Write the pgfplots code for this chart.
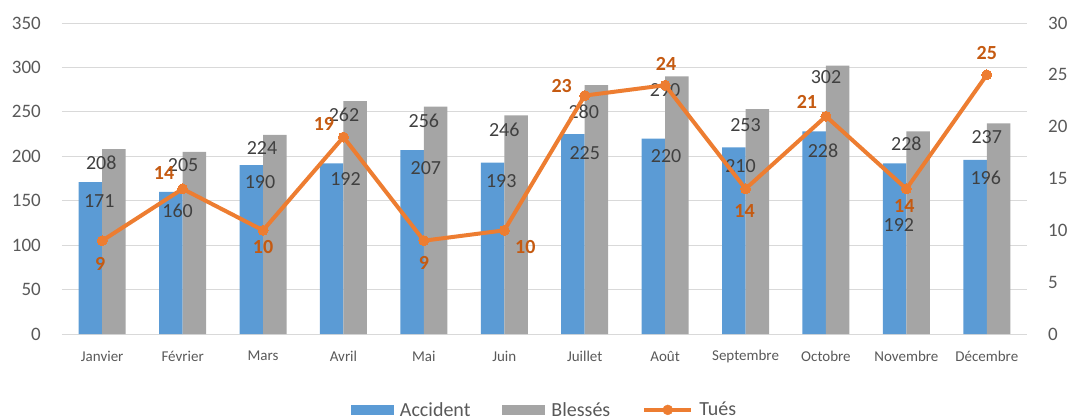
\documentclass[border=0pt]{standalone}
\usepackage{pgfplots}
\usepackage{pgfplotstable}
\pgfplotsset{compat=1.18}
\usepackage{fontspec}
\setmainfont{Carlito}
\definecolor{cBlue}{HTML}{5B9BD5}
\definecolor{cGray}{HTML}{A5A5A5}
\definecolor{cOrange}{HTML}{ED7D31}
\definecolor{cOrLab}{HTML}{C55A11}
\definecolor{cGrid}{HTML}{D9D9D9}
\definecolor{cTick}{HTML}{595959}
\definecolor{cLab}{HTML}{404040}
\pgfplotstableread{
x acc dxa dya bl dxb dyb
0 171 -3 -19 208 -1 -14
1 160 -5 -19 205 0.5 -13
2 190 -3 -17 224 -1 -13
3 192 2 -16 262 0.5 -13.5
4 207 2 -18 256 0 -14.5
5 193 -3 -19 246 0 -14
6 225 0 -19 280 -1 -27
7 220 1 -18 290 0 -14
8 210 -5 -19 253 0 -16
9 228 -3 -19 302 0 -11
10 192 -7.5 -62 228 0 -12
11 196 -1 -18 237 0 -14
}\bars
\pgfplotstableread{
x t dx dy
0 9 -2 -23
1 14 -18.5 15.5
2 10 0 -17
3 19 -19.5 13.5
4 9 0 -22
5 10 21 -17
6 23 -23 10
7 24 1 21
8 14 -1 -22
9 21 -19 14
10 14 -2 -17
11 25 0 22
}\tues
\begin{document}
\begin{tikzpicture}
\begin{axis}[
 at={(0,0)}, anchor=south west,
 scale only axis, width=965bp, height=311bp,
 enlargelimits=false,
 xmin=-0.5, xmax=11.5, ymin=0, ymax=350,
 ytick={0,50,...,350},
 xtick={0,...,11},
 xticklabels={Janvier,Février,Mars,Avril,Mai,Juin,Juillet,Août,Septembre,Octobre,Novembre,Décembre},
 axis line style={draw=none},
 major tick length=0pt,
 ymajorgrids, grid style={cGrid, line width=1bp},
 /pgf/number format/assume math mode=true,
 yticklabel style={font=\fontsize{19bp}{22bp}\selectfont, text=cTick, anchor=east, inner sep=0pt, xshift=-21bp},
 xticklabel style={font=\fontsize{15bp}{18bp}\selectfont, text=cTick, anchor=center, inner sep=0pt, yshift=-22bp},
 bar width=0.292,
 legend style={draw=none, fill=none, at={(0.50,-0.244)}, anchor=center,
   font=\fontsize{20bp}{24bp}\selectfont, text=cTick,
   /tikz/every odd column/.append style={column sep=4bp},
   /tikz/every even column/.append style={column sep=30bp}},
 legend columns=3,
]
\addplot[ybar, fill=cBlue, draw=none, bar shift=-0.146,
  visualization depends on={\thisrow{dxa}\as\ddx},
  visualization depends on={\thisrow{dya}\as\ddy},
  nodes near coords, nodes near coords style={font=\fontsize{20bp}{24bp}\selectfont, text=cLab, anchor=center, inner sep=1bp, xshift=\ddx bp, yshift=\ddy bp},
  legend image code/.code={\fill[cBlue] (0bp,-5bp) rectangle (43bp,5bp);}]
 table[x=x, y=acc]{\bars};
\addlegendentry{Accident}
\addplot[ybar, fill=cGray, draw=none, bar shift=0.146,
  visualization depends on={\thisrow{dxb}\as\ddx},
  visualization depends on={\thisrow{dyb}\as\ddy},
  nodes near coords, nodes near coords style={font=\fontsize{20bp}{24bp}\selectfont, text=cLab, anchor=center, inner sep=1bp, xshift=\ddx bp, yshift=\ddy bp},
  legend image code/.code={\fill[cGray] (0bp,-5bp) rectangle (43bp,5bp);}]
 table[x=x, y=bl]{\bars};
\addlegendentry{Blessés}
\addlegendimage{legend image code/.code={\draw[cOrange, line width=4bp] (0bp,0bp) -- (47bp,0bp); \fill[cOrange] (23.5bp,0bp) circle (5bp);}}
\addlegendentry{Tués}
\end{axis}
\begin{axis}[
 at={(0,0)}, anchor=south west,
 scale only axis, width=965bp, height=311bp,
 enlargelimits=false,
 xmin=-0.5, xmax=11.5, ymin=0, ymax=30,
 ytick={0,5,...,30},
 axis y line*=right, axis x line=none,
 axis line style={draw=none},
 major tick length=0pt,
 /pgf/number format/assume math mode=true,
 yticklabel style={font=\fontsize{19bp}{22bp}\selectfont, text=cTick, anchor=west, inner sep=0pt, xshift=21bp},
]
\addplot[cOrange, line width=4bp, mark=*, mark size=5bp, mark options={fill=cOrange, draw=cOrange, line width=0pt}]
 table[x=x, y=t]{\tues};
\addplot[draw=none, mark=none,
  visualization depends on={\thisrow{dx}\as\ddx},
  visualization depends on={\thisrow{dy}\as\ddy},
  nodes near coords, nodes near coords style={font=\fontsize{20bp}{24bp}\selectfont\bfseries, text=cOrLab, anchor=center, inner sep=1bp, xshift=\ddx bp, yshift=\ddy bp}]
 table[x=x, y=t]{\tues};
\end{axis}
\pgfresetboundingbox
\path[use as bounding box] (-62bp,-85bp) rectangle (1005bp,334bp);
\end{tikzpicture}
\end{document}
